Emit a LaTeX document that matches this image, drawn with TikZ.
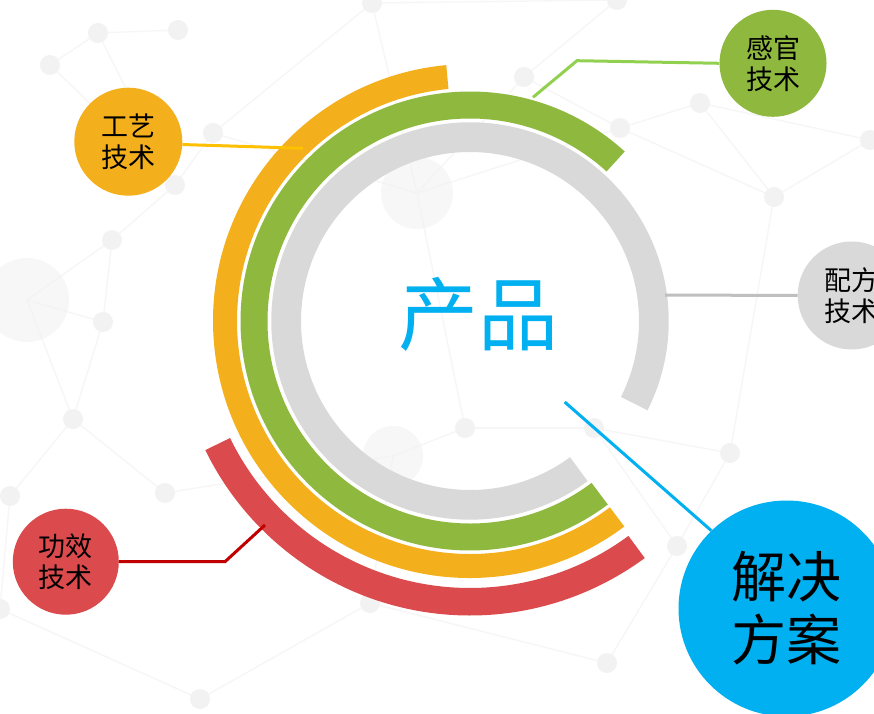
\documentclass[tikz,border=0pt]{standalone}
\usepackage{fontspec}
\setmainfont{Noto Sans CJK SC}
\definecolor{cOrange}{HTML}{F4B01C}
\definecolor{cGreen}{HTML}{8FB83F}
\definecolor{cGray}{HTML}{D9D9D9}
\definecolor{cRed}{HTML}{DB4A4C}
\definecolor{cBlue}{HTML}{00B0F0}
\definecolor{lOrange}{HTML}{FFC000}
\definecolor{lGreen}{HTML}{92D050}
\definecolor{lGray}{HTML}{BFBFBF}
\definecolor{lRed}{HTML}{C00000}
\definecolor{bgLine}{HTML}{F6F6F6}
\definecolor{bgDot}{HTML}{F2F2F2}
\begin{document}
\begin{tikzpicture}[x=1pt,y=1pt,
  bubble/.style={circle,inner sep=0pt,align=center,text=black,
    font=\fontsize{27}{31}\selectfont},
  conn/.style={line width=3pt},
  bgl/.style={bgLine,line width=1.3pt},
  bgd/.style={fill=bgDot}]
\useasboundingbox (0,0) rectangle (874,713);
\fill[white] (0,0) rectangle (874,713);
% faint background network (image coordinates)
\begin{scope}[shift={(0,713)},yscale=-1]
  \foreach \n/\x/\y in {A/98/33,B/178/30,C/50/65,D/213/133,E/175/185,F/112/240,G/103/322,H/372/3,I/417/193,J/27/300,K/617/0,L/524/77,M/620/128,N/700/103,O/774/197,P/870/140,Q/465/428,R/594/428,S/730/453,T/677/546,U/607/663,V/73/419,W/10/496,X/165/493,Y/0/609,Z/370/603,AA/200/699,AB/393/456}
    \coordinate (bg\n) at (\x,\y);
  \foreach \a/\b in {A/C,A/B,A/E,C/E,E/D,D/H,E/F,F/G,F/J,G/J,H/I,H/K,K/L,L/M,M/N,N/P,N/O,M/O,O/P,O/S,I/M,I/Q,Q/R,R/S,S/T,T/U,Q/AB,AB/Z,Z/U,V/W,V/X,X/AB,W/Y,Y/AA,AA/Z,G/V,J/V,R/T,D/I,L/I}
    \draw[bgl] (bg\a) -- (bg\b);
  \foreach \n in {A,B,C,D,E,F,G,H,K,L,M,N,O,P,Q,R,S,T,U,V,W,X,Y,Z,AA}
    \fill[bgd] (bg\n) circle (10);
  \fill[bgd,opacity=0.6] (bgI) circle (36);
  \fill[bgd,opacity=0.6] (bgJ) circle (42);
  \fill[bgd,opacity=0.6] (bgAB) circle (30);
\end{scope}
% rings
\begin{scope}[shift={(470,392)}]
  \fill[cGray]   (-26.7:198.7) arc[start angle=-26.7,end angle=306.3,radius=198.7]
                 -- (306.3:169) arc[start angle=306.3,end angle=-26.7,radius=169] -- cycle;
  \fill[cGreen]  (47.6:229.5) arc[start angle=47.6,end angle=306.9,radius=229.5]
                 -- (306.9:202.5) arc[start angle=306.9,end angle=47.6,radius=202.5] -- cycle;
  \fill[cOrange] (95.3:257) arc[start angle=95.3,end angle=306.9,radius=257]
                 -- (306.9:233) arc[start angle=306.9,end angle=95.3,radius=233] -- cycle;
  \fill[cRed]    (206:294.5) arc[start angle=206,end angle=306.4,radius=294.5]
                 -- (306.4:267) arc[start angle=306.4,end angle=206,radius=267] -- cycle;
\end{scope}
% centre text
\node[text=cBlue,font=\fontsize{80}{80}\selectfont,inner sep=0pt] (cp) at (478,399) {产品};
% bubbles
\node[bubble,fill=cOrange,minimum size=108] (gy) at (128.3,571.3) {工艺\\技术};
\node[bubble,fill=cGreen,minimum size=107] (gg) at (773,649.7) {感官\\技术};
\node[bubble,fill=cGray,minimum size=108] (pf) at (851.7,417.5) {配方\\技术};
\node[bubble,fill=cRed,minimum size=106] (gx) at (65.8,151.3) {功效\\技术};
\node[bubble,fill=cBlue,minimum size=216,font=\fontsize{55}{63}\selectfont] (jj) at (786.5,104.5) {解决\\方案};
% connector end points on the rings
\coordinate (oe) at (303,564.7);
\coordinate (ge) at (533,615.7);
\coordinate (gk) at (577,652.3);
\coordinate (pe) at (665,418);
\coordinate (re) at (265,188);
\coordinate (rk) at (225,151.3);
\coordinate (be) at (564.7,311);
% connectors
\draw[conn,lOrange] (gy.-3.5) -- (oe);
\draw[conn,lGreen] (ge) -- (gk) -- (gg.west);
\draw[conn,lGray] (pe) -- (pf.west);
\draw[conn,lRed] (gx.east) -- (rk) -- (re);
\draw[conn,cBlue] (be) -- (jj.134.5);
\end{tikzpicture}
\end{document}
